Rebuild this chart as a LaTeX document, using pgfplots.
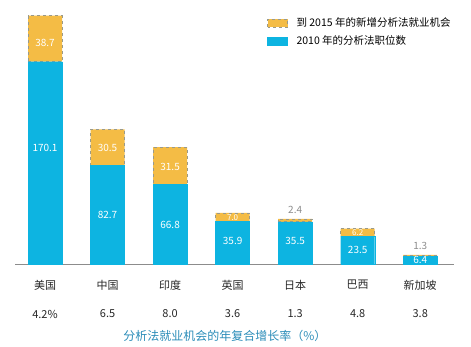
\documentclass[border=0pt]{standalone}
\usepackage{pgfplots}
\pgfplotsset{compat=1.18}
\usepackage{fontspec}
\setmainfont{Noto Sans CJK SC}
\definecolor{barblue}{HTML}{0DB4E1}
\definecolor{bargold}{HTML}{F4BC45}
\definecolor{dashgray}{HTML}{9A9A8A}
\definecolor{lblgray}{HTML}{8C8C8C}
\definecolor{growthc}{HTML}{3C93B8}
\definecolor{titleblue}{HTML}{2A8CB8}
\pgfplotsset{frame/.style={at={(15pt,83pt)}, anchor=south west,
  scale only axis, width=439pt, height=264pt,
  xmin=-0.48, xmax=6.54, ymin=0, ymax=222, clip=false}}
\begin{document}
\begin{tikzpicture}
\path (0pt,0pt) rectangle (471pt,347pt);
\begin{axis}[
  frame,
  ybar stacked, bar width=34pt,
  axis x line=bottom, axis y line=none,
  x axis line style={draw=lblgray, line width=0.8pt, -},
  xtick={0,1,2,3,4,5,6}, major tick length=0pt,
  xticklabels={美国,中国,印度,英国,日本,巴西,新加坡},
  xticklabel style={anchor=center, yshift=-21pt, font=\fontsize{11}{13}\selectfont, text=black!85},
  extra x ticks={0,1,2,3,4,5,6},
  extra x tick labels={4.2\%,6.5,8.0,3.6,1.3,4.8,3.8},
  extra x tick style={tick label style={anchor=center, yshift=-29pt, font=\fontsize{10.5}{12}\selectfont, text=growthc}},
  xlabel={分析法就业机会的年复合增长率（\%）},
  xlabel style={at={(axis description cs:0.478,0)}, anchor=center, yshift=-72pt, font=\fontsize{12}{14}\selectfont, text=titleblue},
  legend style={at={(axis cs:3.55,209)}, anchor=north west, draw=none, fill=none,
    font=\fontsize{10.5}{12}\selectfont, row sep=4pt, inner sep=0pt},
  legend cell align=left, reverse legend,
  legend image code/.code={\path[draw=none, fill=none] (0pt,0pt) -- (27pt,0pt); \draw[#1] (0pt,-4pt) rectangle (20pt,4pt);},
]
\addplot[fill=barblue, draw=barblue, line width=0.3pt] coordinates {(0,170.1) (1,82.7) (2,66.8) (3,35.9) (4,35.5) (5,23.5) (6,6.4)};
\addlegendentry{2010 年的分析法职位数}
\addplot[fill=bargold, draw=dashgray, dashed, line width=0.6pt] coordinates {(0,38.7) (1,30.5) (2,31.5) (3,7.0) (4,2.4) (5,6.2) (6,1.3)};
\addlegendentry{到 2015 年的新增分析法就业机会}
\end{axis}
\begin{axis}[frame, hide axis,
  nodes near coords, point meta=explicit symbolic,
  nodes near coords style={anchor=center, font=\fontsize{10}{12}\selectfont}]
\addplot[only marks, mark=none, nodes near coords style={text=white}] coordinates {
  (0,97.5) [170.1] (1,41.5) [82.7] (2,33) [66.8] (3,19) [35.9] (4,19) [35.5] (5,11.5) [23.5] (6,3.3) [6.4]
  (0,186) [38.7] (1,97.5) [30.5] (2,81.5) [31.5]};
\addplot[only marks, mark=none, nodes near coords style={text=white, font=\fontsize{8}{9}\selectfont}] coordinates {
  (3,39.3) [7.0] (5,26.6) [6.2]};
\addplot[only marks, mark=none, nodes near coords style={text=lblgray}] coordinates {
  (4,45.5) [2.4] (6,15) [1.3]};
\end{axis}
\end{tikzpicture}
\end{document}
